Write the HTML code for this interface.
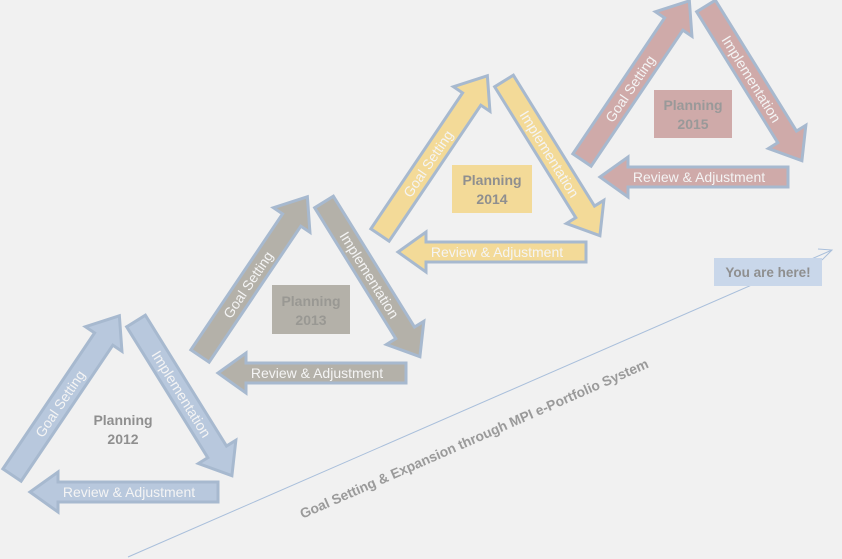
<!DOCTYPE html>
<html><head><style>body{margin:0;background:#f1f1f1}svg{display:block}</style></head>
<body>
<svg width="842" height="559" viewBox="0 0 842 559" xmlns="http://www.w3.org/2000/svg" font-family="Liberation Sans, sans-serif">
<rect width="842" height="559" fill="#f1f1f1"/>
<line x1="128" y1="557" x2="832" y2="250" stroke="#a9bfdb" stroke-width="1"/>
<polyline points="818,249 832,250 822,260" fill="none" stroke="#a9bfdb" stroke-width="1"/>
<text transform="translate(476,443) rotate(-23.6)" text-anchor="middle" font-size="13.8" font-weight="bold" fill="#9a9a9a">Goal Setting &amp; Expansion through MPI e-Portfolio System</text>
<rect x="714" y="258" width="108" height="28" fill="#c9d7ea"/>
<text x="768" y="277" text-anchor="middle" font-size="13.5" font-weight="bold" fill="#8f8f8f">You are here!</text>

<defs>
<g id="tri">
<polygon transform="translate(12,475) rotate(-56)" points="0,-11 164,-11 164,-22 192,0 164,22 164,11 0,11" stroke="#a7b9cf" stroke-width="3"/>
<polygon transform="translate(136,321) rotate(58.2)" points="0,-11 154,-11 154,-22 182,0 154,22 154,11 0,11" stroke="#a7b9cf" stroke-width="3"/>
<polygon transform="translate(218,492) rotate(180)" points="0,-10 160,-10 160,-20 188,0 160,20 160,10 0,10" stroke="#a7b9cf" stroke-width="3"/>
<text transform="translate(12,475) rotate(-56)" x="86" y="5" text-anchor="middle" font-size="14" fill="#f4f4f4">Goal Setting</text>
<text transform="translate(136,321) rotate(58.2)" x="86" y="5" text-anchor="middle" font-size="14.5" fill="#f4f4f4">Implementation</text>
<text x="129" y="497" text-anchor="middle" font-size="14" fill="#f4f4f4">Review &amp; Adjustment</text>
</g>
</defs>

<g fill="#b8c8dd"><use href="#tri"/></g>
<text x="123" y="425" text-anchor="middle" font-size="14" font-weight="bold" fill="#8f8f8f">Planning</text>
<text x="123" y="444" text-anchor="middle" font-size="14" font-weight="bold" fill="#8f8f8f">2012</text>

<g fill="#b4b1a9" transform="translate(188,-119)"><use href="#tri"/>
<rect x="84" y="404" width="78" height="49" fill="#b4b1a9"/>
<text x="123" y="425" text-anchor="middle" font-size="14" font-weight="bold" fill="#999893">Planning</text>
<text x="123" y="444" text-anchor="middle" font-size="14" font-weight="bold" fill="#999893">2013</text></g>

<g fill="#f3da98" transform="translate(368,-240)"><use href="#tri"/>
<rect x="84" y="405" width="80" height="48" fill="#f3da98"/>
<text x="124" y="425" text-anchor="middle" font-size="14" font-weight="bold" fill="#8f8f8f">Planning</text>
<text x="124" y="444" text-anchor="middle" font-size="14" font-weight="bold" fill="#8f8f8f">2014</text></g>

<g fill="#cfaaa9" transform="translate(570,-315)"><use href="#tri"/>
<rect x="84" y="405" width="78" height="48" fill="#cfaaa9"/>
<text x="123" y="425" text-anchor="middle" font-size="14" font-weight="bold" fill="#999">Planning</text>
<text x="123" y="444" text-anchor="middle" font-size="14" font-weight="bold" fill="#999">2015</text></g>
</svg>
</body></html>
